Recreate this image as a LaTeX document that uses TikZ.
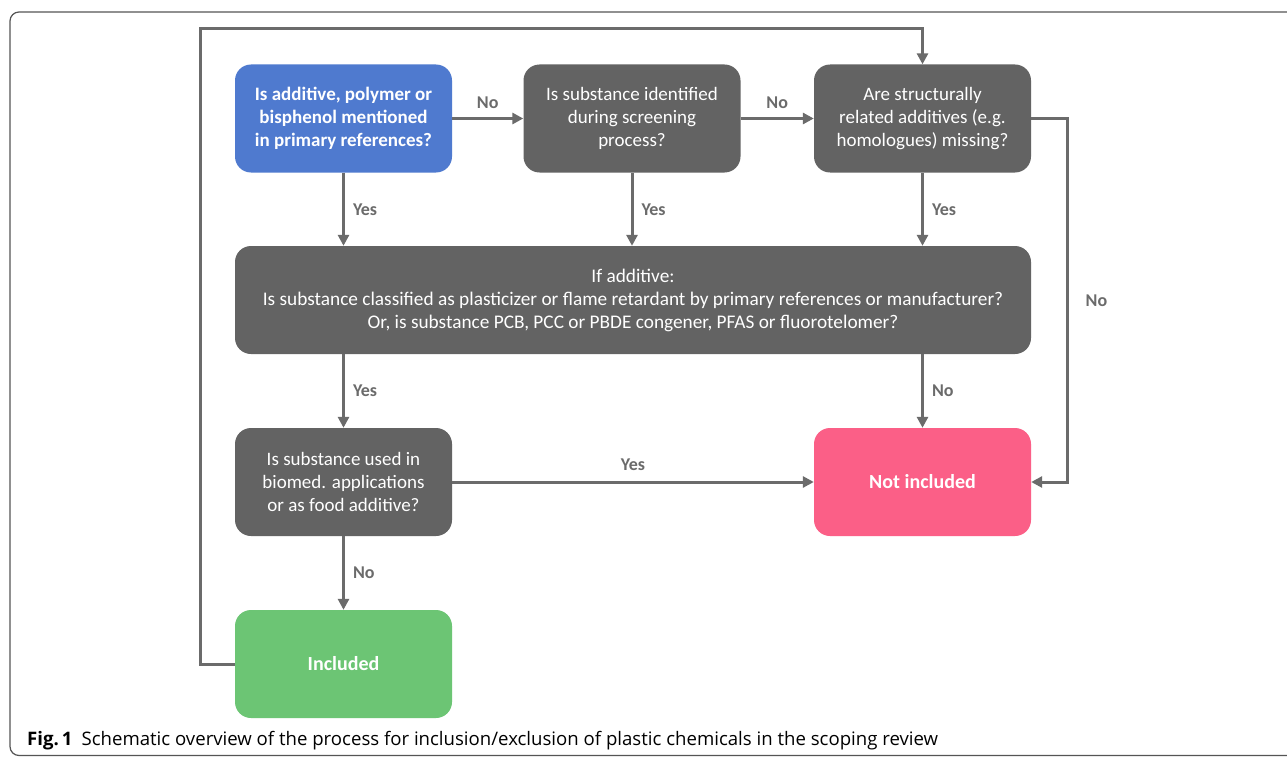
\documentclass[tikz,border=0pt]{standalone}
\usepackage{fontspec}
\setmainfont{Carlito}
\newfontfamily\capfont{Open Sans}
\usetikzlibrary{arrows.meta}
\definecolor{qblue}{HTML}{4F7ACF}
\definecolor{qgray}{HTML}{636363}
\definecolor{qpink}{HTML}{FB5F87}
\definecolor{qgreen}{HTML}{6CC574}
\definecolor{lgray}{HTML}{6B6B6B}
\definecolor{fgray}{HTML}{555555}
\tikzset{
  box/.style={rounded corners=16pt, minimum width=217pt, minimum height=108pt,
    text=white, align=center, font=\fontsize{19}{23}\selectfont, inner sep=0pt},
  bigbox/.style={box, minimum width=796pt, font=\fontsize{19.3}{23}\selectfont},
  conn/.style={draw=lgray, line width=3pt, -{Triangle[length=11pt,width=11pt]}},
  plain/.style={draw=lgray, line width=3pt},
  lab/.style={text=lgray, font=\fontsize{18}{20}\selectfont\bfseries, inner sep=0pt}
}
\begin{document}
\begin{tikzpicture}[x=1pt,y=-1pt]
\clip (0,0) rectangle (1287,757);
\fill[white] (0,0) rectangle (1287,757);
\draw[fgray, line width=1.2pt, rounded corners=9pt] (10,12) rectangle (1310,755.5);

\node[box, fill=qblue, font=\fontsize{19}{23}\selectfont\bfseries] (q1) at (343.5,118.5) {Is additive, polymer or\\bisphenol mentioned\\in primary references?};
\node[box, fill=qgray] (q2) at (632,118.5) {Is substance identified\\during screening\\process?};
\node[box, fill=qgray] (q3) at (922.5,118.5) {Are structurally\\related additives (e.g.\\homologues) missing?};
\node[bigbox, fill=qgray] (q4) at (633,300) {If additive:\\Is substance classified as plasticizer or flame retardant by primary references or manufacturer?\\Or, is substance PCB, PCC or PBDE congener, PFAS or fluorotelomer?};
\node[box, fill=qgray] (q5) at (343.5,482) {Is substance used in\\biomed. applications\\or as food additive?};
\node[box, fill=qpink, font=\fontsize{20}{23}\selectfont\bfseries] (ni) at (922.5,482) {Not included};
\node[box, fill=qgreen, font=\fontsize{20}{23}\selectfont\bfseries] (inc) at (343.5,664) {Included};

\coordinate (loopTL) at (200,29);

\draw[conn] (q1.east) -- node[lab, above=8pt] {No} (q2.west);
\draw[conn] (q2.east) -- node[lab, above=8pt] {No} (q3.west);
\draw[conn] (q1.south) -- node[lab, right=8pt] {Yes} (q1.south |- q4.north);
\draw[conn] (q2.south) -- node[lab, right=8pt] {Yes} (q2.south |- q4.north);
\draw[conn] (q3.south) -- node[lab, right=8pt] {Yes} (q3.south |- q4.north);
\draw[conn] (q5.north |- q4.south) -- node[lab, right=8pt] {Yes} (q5.north);
\draw[conn] (ni.north |- q4.south) -- node[lab, right=8pt] {No} (ni.north);
\draw[conn] (q5.east) -- node[lab, above=10pt] {Yes} (ni.west);
\draw[conn] (q5.south) -- node[lab, right=8pt] {No} (inc.north);
\draw[conn, rounded corners=0pt] (q3.east) -- ++(36,0) coordinate (rightbend) -- node[lab, right=17pt] {No} (rightbend |- ni.east) -- (ni.east);
\draw[conn] (inc.west) -| (loopTL) -| (q3.north);

\node[anchor=base west, inner sep=0pt, font=\capfont\fontsize{18.6}{20}\selectfont] (cap) at (27,745.5) {\textbf{Fig.\,1}\hspace{9pt}Schematic overview of the process for inclusion/exclusion of plastic chemicals in the scoping review};
\end{tikzpicture}
\end{document}
